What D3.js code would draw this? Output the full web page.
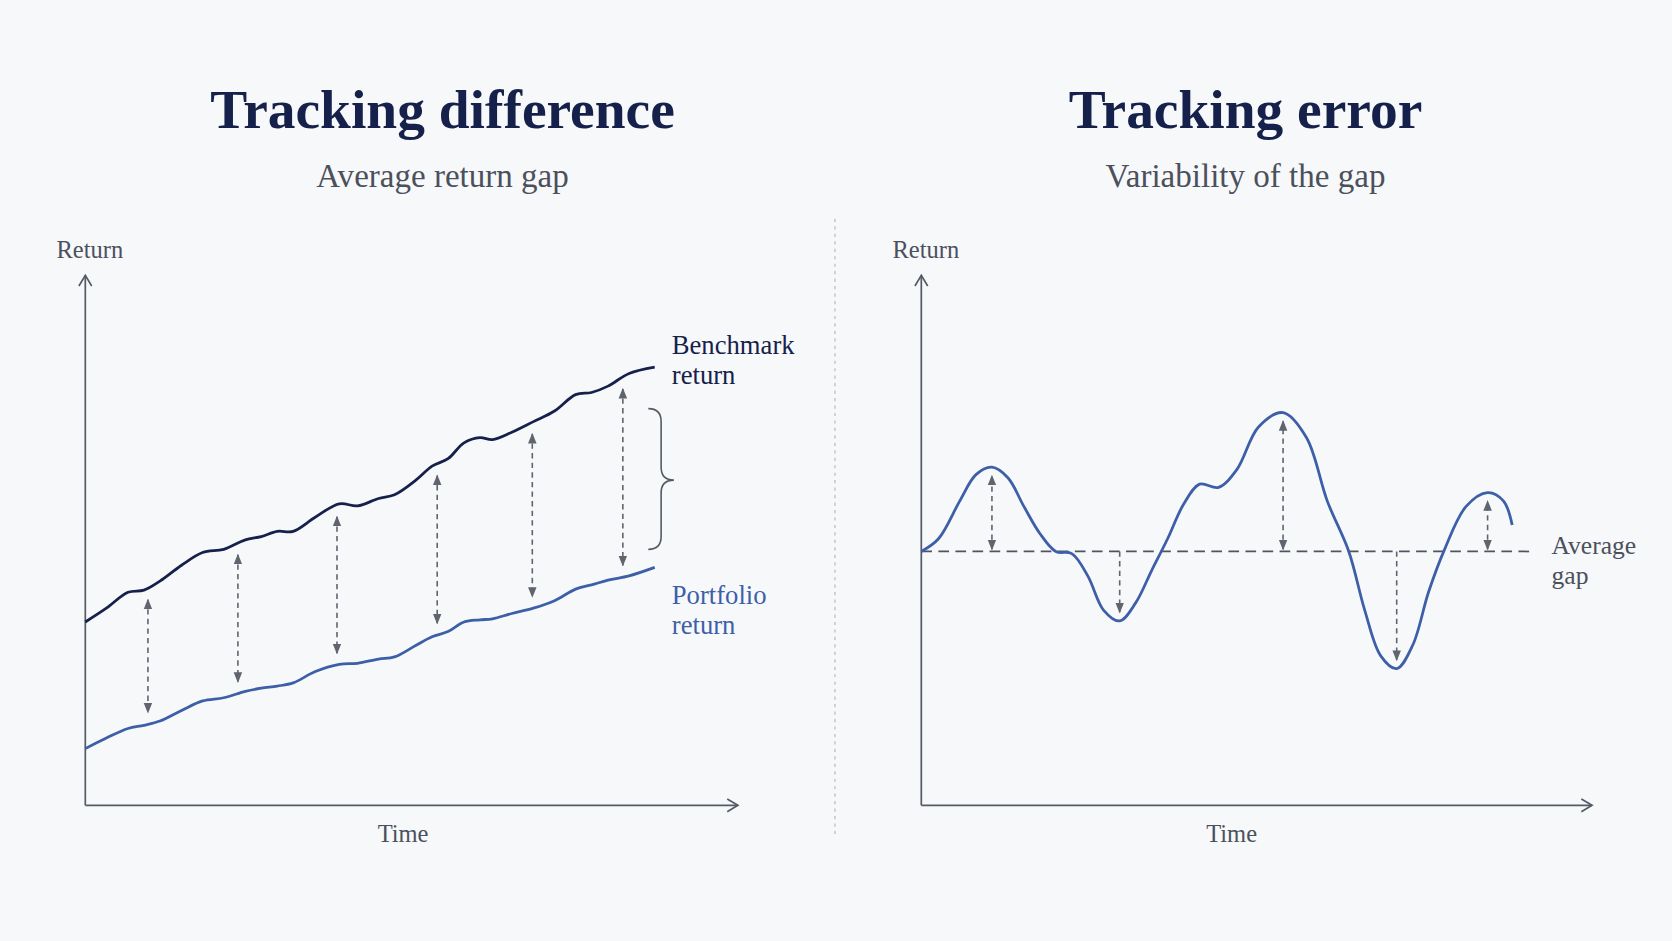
<!DOCTYPE html>
<html><head><meta charset="utf-8">
<script src="https://cdn.jsdelivr.net/npm/d3@7"></script>
<style>html,body{margin:0;background:#f7f8fa;}svg{display:block}</style>
</head><body><svg id="c"></svg>
<script>
const titles = ["Tracking difference","Tracking error"];
const subtitles = ["Average return gap","Variability of the gap"];
const benchT = [0,3.7,7.5,10.3,13.1,16.9,20.6,24.3,28.1,30.9,33.7,36.5,40.3,44.6,47.8,51.5,54.3,58.1,60.9,63.7,66.5,69.3,71.5,74.9,78.7,82.4,86.1,88.9,91.8,95.5,100];
const benchmark = [34.6,37.2,40.2,40.6,42.3,45.3,47.7,48.3,50.1,50.7,51.7,51.7,54.3,56.9,56.5,57.9,58.6,61.4,64.0,65.4,68.4,69.4,69.0,70.4,72.4,74.4,77.5,77.9,79.1,81.5,82.7];
const portfolio = [10.7,12.7,14.5,15.1,15.9,17.9,19.7,20.3,21.5,22.1,22.5,23.1,25.2,26.6,26.8,27.6,28.0,30.2,31.8,32.8,34.6,35.0,35.2,36.2,37.2,38.6,40.8,41.6,42.5,43.3,44.9];
const gapArrowT = [11,26.8,44.2,61.8,78.5,94.4];
const errT = [0,2.8,6.25,8.9,11.5,14.1,16.7,19.3,21.9,24.5,27.1,29.7,32.3,34.9,37.5,40.1,42.7,45.3,48.4,51.4,54.9,58.9,62.7,66.1,69.6,72.2,74.8,77.4,80.0,82.6,85.2,88.7,92.2,94.8,96.2];
const deviation = [0,2.4,9.5,14.5,15.9,13.9,8.5,3.4,0,-0.4,-4.6,-11.1,-13.1,-9.7,-3.6,2.4,8.9,12.7,12.1,15.5,23.5,26.2,21.5,9.5,0,-11.1,-19.7,-22.1,-17.7,-7.6,0.4,8.5,11.1,9.5,5.0];
const devArrows = [{t:11.5,v:15.9,both:true},{t:32.3,v:-13.1,both:false},{t:58.9,v:26.2,both:true},{t:77.4,v:-22.1,both:false},{t:92.2,v:11.1,both:true}];

const W=1568,H=882;
const svg=d3.select("#c").attr("width",1672).attr("height",941).attr("viewBox",`0 0 ${W} ${H}`);
svg.append("rect").attr("width",W).attr("height",H).attr("fill","#f7f8fa");
const serif='"Liberation Serif","DejaVu Serif",serif';
const navy="#15214a", blue="#3d5fa8", grey="#5f646e", axisC="#555b66";
const defs=svg.append("defs");
defs.append("marker").attr("id","ah").attr("viewBox","0 0 10 10").attr("refX",9).attr("refY",5)
 .attr("markerWidth",10).attr("markerHeight",10).attr("markerUnits","userSpaceOnUse").attr("orient","auto-start-reverse")
 .append("path").attr("d","M0,1 L10,5 L0,9 Z").attr("fill",grey);
defs.append("marker").attr("id","ax").attr("viewBox","0 0 14 14").attr("refX",12).attr("refY",7)
 .attr("markerWidth",14).attr("markerHeight",14).attr("markerUnits","userSpaceOnUse").attr("orient","auto")
 .append("path").attr("d","M2,1 L12,7 L2,13").attr("fill","none").attr("stroke",axisC).attr("stroke-width",1.6);

// titles
[415,1168].forEach((cx,i)=>{
  svg.append("text").attr("x",cx).attr("y",120).attr("text-anchor","middle").attr("font-family",serif)
   .attr("font-weight","bold").attr("font-size",52).attr("fill",navy).text(titles[i]);
  svg.append("text").attr("x",cx).attr("y",175).attr("text-anchor","middle").attr("font-family",serif)
   .attr("font-size",31).attr("fill","#4b505c").text(subtitles[i]);
});
svg.append("line").attr("x1",783).attr("x2",783).attr("y1",205).attr("y2",785)
 .attr("stroke","#b9bdc4").attr("stroke-dasharray","3,4").attr("stroke-width",1.2);

function axes(x0,xEnd,timeX){
  svg.append("path").attr("d",`M${x0},755 L${x0},258`).attr("stroke",axisC).attr("stroke-width",1.6).attr("fill","none").attr("marker-end","url(#ax)");
  svg.append("path").attr("d",`M${x0},755 L${xEnd},755`).attr("stroke",axisC).attr("stroke-width",1.6).attr("fill","none").attr("marker-end","url(#ax)");
  svg.append("text").attr("x",x0-27).attr("y",242).attr("font-family",serif).attr("font-size",23).attr("fill","#4b505c").text("Return");
  svg.append("text").attr("x",timeX).attr("y",789).attr("text-anchor","middle").attr("font-family",serif).attr("font-size",23).attr("fill","#4b505c").text("Time");
}
axes(80,692,378); axes(864,1493,1155);

// left chart
const xL=d3.scaleLinear().domain([0,100]).range([80,614]);
const y=d3.scaleLinear().domain([0,100]).range([755,258]);
const lineL=d3.line().x(d=>xL(d[0])).y(d=>y(d[1])).curve(d3.curveCatmullRom);
svg.append("path").attr("d",lineL(benchT.map((t,i)=>[t,benchmark[i]]))).attr("fill","none").attr("stroke",navy).attr("stroke-width",2.6);
svg.append("path").attr("d",lineL(benchT.map((t,i)=>[t,portfolio[i]]))).attr("fill","none").attr("stroke",blue).attr("stroke-width",2.6);
const bI=d3.scaleLinear().domain(benchT).range(benchmark), pI=d3.scaleLinear().domain(benchT).range(portfolio);
gapArrowT.forEach(t=>{
  svg.append("line").attr("x1",xL(t)).attr("x2",xL(t)).attr("y1",y(bI(t))+11).attr("y2",y(pI(t))-11)
   .attr("stroke",grey).attr("stroke-width",1.5).attr("stroke-dasharray","5,4")
   .attr("marker-start","url(#ah)").attr("marker-end","url(#ah)");
});
// brace
svg.append("path").attr("d","M608,383 Q620,383 620,395 L620,438 Q620,450 632,450 Q620,450 620,462 L620,503 Q620,515 608,515")
 .attr("fill","none").attr("stroke",axisC).attr("stroke-width",1.5);
[["Benchmark",332],["return",360]].forEach(d=>svg.append("text").attr("x",630).attr("y",d[1]).attr("font-family",serif).attr("font-size",25).attr("fill",navy).text(d[0]));
[["Portfolio",566],["return",594]].forEach(d=>svg.append("text").attr("x",630).attr("y",d[1]).attr("font-family",serif).attr("font-size",25).attr("fill",blue).text(d[0]));

// right chart
const xR=d3.scaleLinear().domain([0,100]).range([864,1440]);
const yR=d3.scaleLinear().domain([-47.9,52.1]).range([755,258]);
svg.append("line").attr("x1",xR(0)).attr("x2",xR(100)).attr("y1",yR(0)).attr("y2",yR(0))
 .attr("stroke","#4f5560").attr("stroke-width",1.6).attr("stroke-dasharray","10,6");
const lineR=d3.line().x(d=>xR(d[0])).y(d=>yR(d[1])).curve(d3.curveCatmullRom);
svg.append("path").attr("d",lineR(errT.map((t,i)=>[t,deviation[i]]))).attr("fill","none").attr("stroke",blue).attr("stroke-width",2.6);
devArrows.forEach(a=>{
  const sgn=a.v>0?1:-1;
  const l=svg.append("line").attr("x1",xR(a.t)).attr("x2",xR(a.t))
   .attr("y1",yR(0)-(a.both?2*sgn:0)).attr("y2",yR(a.v)+8*sgn)
   .attr("stroke",grey).attr("stroke-width",1.5).attr("stroke-dasharray","5,4").attr("marker-end","url(#ah)");
  if(a.both) l.attr("marker-start","url(#ah)");
});
[["Average",519],["gap",547]].forEach(d=>svg.append("text").attr("x",1455).attr("y",d[1]).attr("font-family",serif).attr("font-size",24).attr("fill","#4b505c").text(d[0]));
</script></body></html>
